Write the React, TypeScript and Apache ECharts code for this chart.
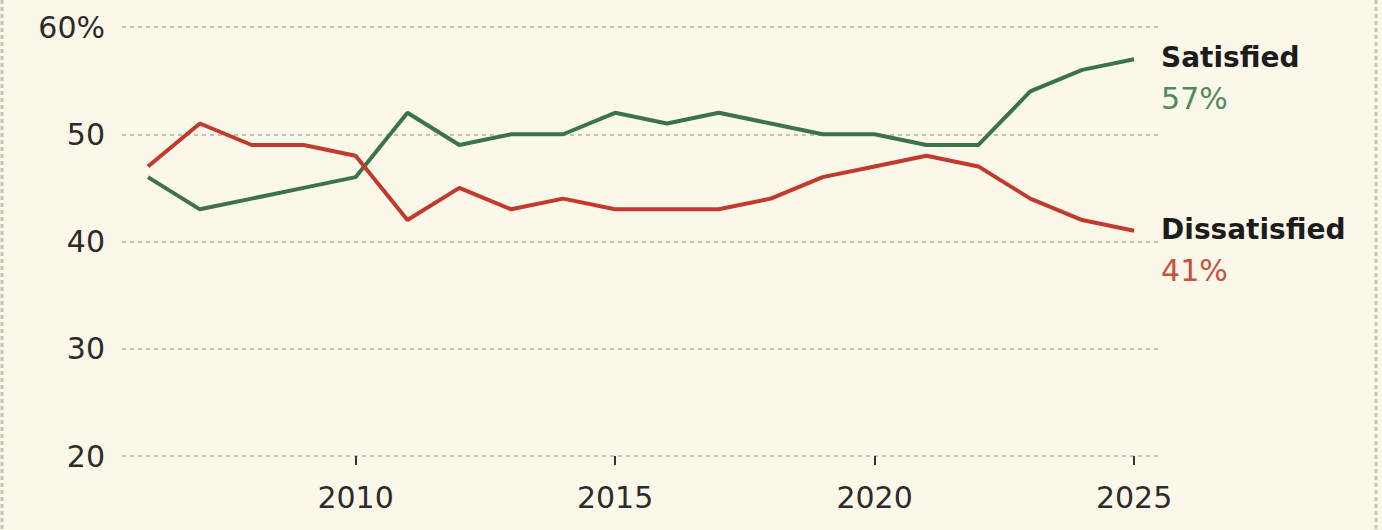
import React, { useEffect, useRef } from "react";
import * as echarts from "echarts";

const years = ["2006","2007","2008","2009","2010","2011","2012","2013","2014","2015","2016","2017","2018","2019","2020","2021","2022","2023","2024","2025"];
const satisfied = [46, 43, 44, 45, 46, 52, 49, 50, 50, 52, 51, 52, 51, 50, 50, 49, 49, 54, 56, 57];
const dissatisfied = [47, 51, 49, 49, 48, 42, 45, 43, 44, 43, 43, 43, 44, 46, 47, 48, 47, 44, 42, 41];
const yTicks = { min: 20, max: 60, interval: 10 };
const seriesNames = ["Satisfied", "Dissatisfied"];

const GREEN = "#3b734a";
const RED = "#c23a2b";
const FONT = "'DejaVu Sans', 'Noto Sans', sans-serif";

export default function App() {
  const ref = useRef<HTMLDivElement>(null);
  useEffect(() => {
    document.body.style.margin = "0";
    const chart = echarts.init(ref.current!, null, { renderer: "svg" });
    const endLabel = (color: string, name: string) => ({
      show: true,
      distance: 27,
      offset: [0, 19],
      formatter: (p: any) => `{a|${name}}\n{b|${p.value}%}`,
      rich: {
        a: { fontFamily: FONT, fontSize: 28, fontWeight: "bold", color: "#1c1c1c", lineHeight: 41 },
        b: { fontFamily: FONT, fontSize: 30, color, lineHeight: 41 },
      },
    });
    chart.setOption({
      animation: false,
      backgroundColor: "#fbf8e9",
      textStyle: { fontFamily: FONT },
      grid: { left: 122, right: 222, top: 27, bottom: 74, containLabel: false },
      xAxis: {
        type: "category",
        data: years,
        boundaryGap: true,
        axisLine: { show: false },
        axisTick: {
          show: true,
          alignWithLabel: true,
          interval: (i: number, v: string) => Number(v) % 5 === 0,
          length: 9,
          lineStyle: { color: "#333", width: 2 },
        },
        axisLabel: {
          interval: (i: number, v: string) => Number(v) % 5 === 0,
          fontSize: 30,
          color: "#2b2b2b",
          margin: 26,
          fontFamily: FONT,
        },
      },
      yAxis: {
        type: "value",
        min: yTicks.min,
        max: yTicks.max,
        interval: yTicks.interval,
        axisLine: { show: false },
        axisTick: { show: false },
        axisLabel: {
          fontSize: 30,
          color: "#2b2b2b",
          margin: 17,
          fontFamily: FONT,
          formatter: (v: number) => (v === yTicks.max ? `${v}%` : `${v}`),
        },
        splitLine: { show: true, lineStyle: { color: "#b0b0a6", type: [4, 4], width: 1.5 } },
      },
      series: [
        {
          name: seriesNames[0],
          type: "line",
          data: satisfied,
          symbol: "none",
          lineStyle: { color: GREEN, width: 4 },
          itemStyle: { color: GREEN },
          endLabel: endLabel("#4f8a5d", seriesNames[0]),
        },
        {
          name: seriesNames[1],
          type: "line",
          data: dissatisfied,
          symbol: "none",
          lineStyle: { color: RED, width: 4 },
          itemStyle: { color: RED },
          endLabel: endLabel("#c8503e", seriesNames[1]),
        },
      ],
      graphic: [
        { type: "line", shape: { x1: 2, y1: 0, x2: 2, y2: 530 }, style: { stroke: "#c4c4bc", lineWidth: 3, lineDash: [4, 3] } },
        { type: "line", shape: { x1: 1376, y1: 0, x2: 1376, y2: 530 }, style: { stroke: "#c4c4bc", lineWidth: 3, lineDash: [4, 3] } },
      ],
    });
    return () => chart.dispose();
  }, []);
  return <div ref={ref} style={{ width: 1382, height: 530 }} />;
}
